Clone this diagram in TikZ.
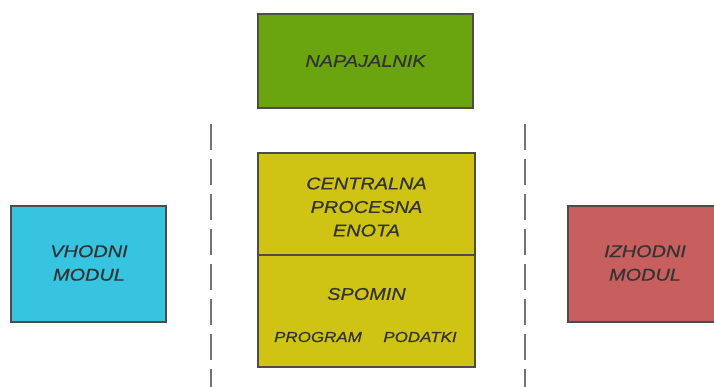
\documentclass[tikz,border=0pt]{standalone}
\usepackage{fontspec}
\setmainfont{Liberation Sans}
\newfontfamily\labelfont[FakeStretch=1.17,FakeBold=0.6]{Liberation Sans}
\begin{document}
\begin{tikzpicture}[x=1pt,y=-1pt,
  box/.style={draw=black!70,line width=1.6pt},
  lbl/.style={font=\labelfont\fontsize{17}{23.5}\selectfont\itshape,text=black!80,align=center,inner sep=0pt},
  sublbl/.style={font=\labelfont\fontsize{14.5}{16}\selectfont\itshape,text=black!80,inner sep=0pt},
  sep/.style={draw=black!55,line width=2.6pt,dash pattern=on 26pt off 9pt}]
\definecolor{powergreen}{HTML}{6AA510}
\definecolor{cpuyellow}{HTML}{CFC414}
\definecolor{incyan}{HTML}{37C4E0}
\definecolor{outred}{HTML}{C85F5F}
\useasboundingbox (0,0) rectangle (714,386);
\begin{scope}
\clip (0,0) rectangle (714,386);
% power supply
\draw[box,fill=powergreen] (258,14) rectangle (473,108);
\node[lbl] (psu) at (365.5,61) {NAPAJALNIK};
% processor and memory
\draw[box,fill=cpuyellow] (258,153) rectangle (475,367);
\draw[box] (258,255) -- (475,255);
\node[lbl] (cpu) at (366.5,207) {CENTRALNA\\PROCESNA\\ENOTA};
\node[lbl] (mem) at (366.5,294) {SPOMIN};
\node[sublbl] (prog) at (318,337) {PROGRAM};
\node[sublbl] (data) at (420,337) {PODATKI};
% input and output modules
\draw[box,fill=incyan] (11,206) rectangle (166,322);
\node[lbl] (in) at (89,263) {VHODNI\\MODUL};
\draw[box,fill=outred] (568,206) rectangle (730,322);
\node[lbl] (out) at (645,263) {IZHODNI\\MODUL};
% separators
\coordinate (s1a) at (211,124); \coordinate (s1b) at (211,392);
\coordinate (s2a) at (525,124); \coordinate (s2b) at (525,392);
\draw[sep] (s1a) -- (s1b);
\draw[sep] (s2a) -- (s2b);
\end{scope}
\end{tikzpicture}
\end{document}
